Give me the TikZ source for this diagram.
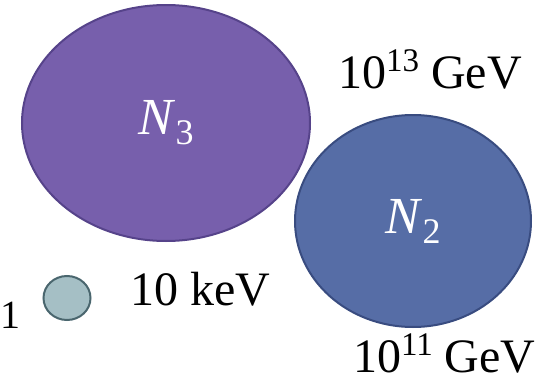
\documentclass[tikz,border=0pt]{standalone}
\usepackage{fontspec}
\setmainfont{Liberation Serif}
\usetikzlibrary{shapes.geometric}

\definecolor{nthree}{HTML}{775FAC}
\definecolor{nthreeline}{HTML}{56438A}
\definecolor{ntwo}{HTML}{566DA6}
\definecolor{ntwoline}{HTML}{394C80}
\definecolor{nsmall}{HTML}{A5BFC5}
\definecolor{nsmallline}{HTML}{4A666E}

\newcommand{\lowidx}[1]{\raisebox{-10pt}{\fontsize{36}{40}\selectfont #1}}
\newcommand{\highidx}[1]{\raisebox{17pt}{\fontsize{33}{40}\selectfont #1}}

\begin{document}
\begin{tikzpicture}[x=1pt,y=-1pt,
			big/.style={ellipse, inner sep=0pt, line width=2pt, text=white, font=\fontsize{52}{58}\selectfont},
			lbl/.style={inner sep=0pt, anchor=base west, font=\fontsize{48}{54}\selectfont}]
			\useasboundingbox (0,0) rectangle (542,383);
			\clip (0,0) rectangle (542,383);
			\node[big, draw=nthreeline, fill=nthree, minimum width=288pt, minimum height=236pt] (n3) at (166,123) {\textit{N}\lowidx{3}};
			\node[big, draw=ntwoline, fill=ntwo, minimum width=236pt, minimum height=212pt] (n2) at (413,221) {\textit{N}\lowidx{2}};
			\node[ellipse, draw=nsmallline, fill=nsmall, line width=2pt, minimum width=47pt, minimum height=44pt, inner sep=0pt] (n1) at (67,298) {};
			\node[lbl] (mthree) at (338,88) {10\highidx{13} GeV};
			\node[lbl] (mtwo) at (353,372) {10\highidx{11} GeV};
			\node[lbl] (mone) at (130,305) {10 keV};
			\node[inner sep=0pt, anchor=base west, font=\fontsize{40}{46}\selectfont] (sub) at (0,328) {1};
			\end{tikzpicture}
\end{document}
